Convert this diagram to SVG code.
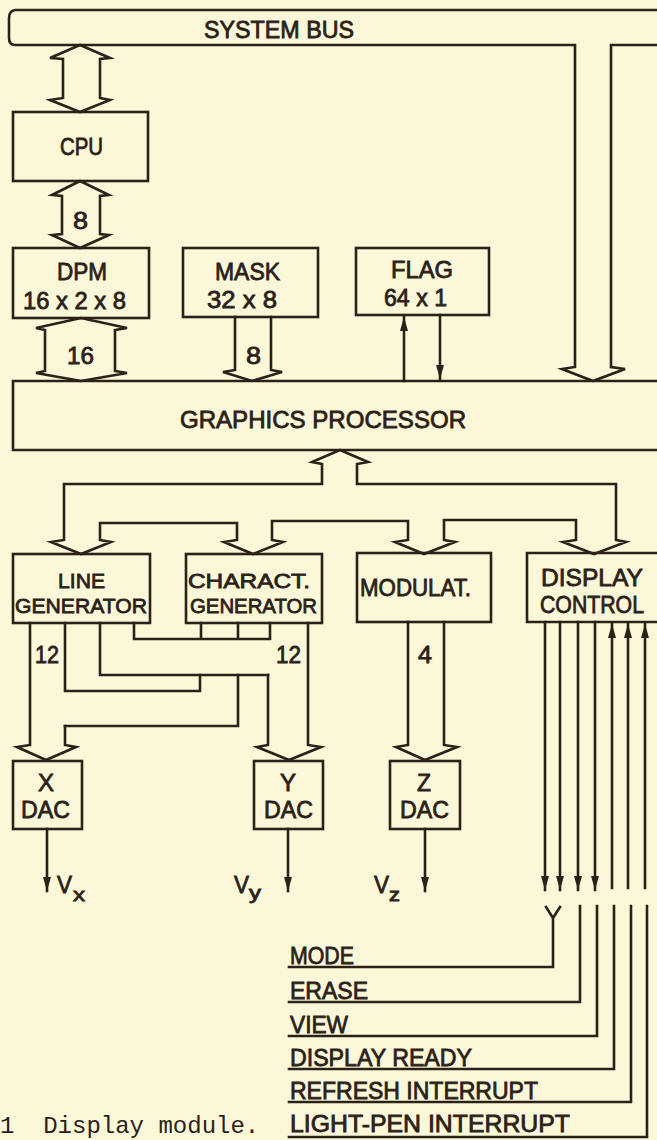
<svg xmlns="http://www.w3.org/2000/svg" width="657" height="1140" viewBox="0 0 657 1140">
<style>
.ln{fill:none;stroke:#2b2118;stroke-width:2.6;stroke-linejoin:miter;stroke-linecap:square}
.bx{fill:none;stroke:#2b2118;stroke-width:2.6}
.t{font-family:'Liberation Sans',Arial,sans-serif;font-size:24px;fill:#2b2118;stroke:#2b2118;stroke-width:0.8}
.m{font-size:21px}
.s{font-size:18px}
.cap{font-family:'Liberation Mono','Courier New',monospace;font-size:24px;fill:#2b2118}
</style>
<defs>
<marker id="ah" markerUnits="userSpaceOnUse" markerWidth="16" markerHeight="10" refX="14" refY="4" orient="auto">
<path d="M0,0 L14,4 L0,8 Z" fill="#2b2118"/>
</marker>
</defs>
<rect width="657" height="1140" fill="#fbf8d9"/>

<g id="system-bus">
<path class="ln" d="M657,10 L15,10 Q9,11 9,18 L9,38 Q9,45 15,45 L575,45 L575,367 L562,369 L593,381 L625,369 L611,367 L611,45 L657,45"/>
<text class="t" x="204" y="38" textLength="150" lengthAdjust="spacingAndGlyphs">SYSTEM BUS</text>
</g>

<g id="cpu">
<rect class="bx" x="13" y="112" width="135" height="69"/>
<text class="t" x="60" y="155" textLength="43" lengthAdjust="spacingAndGlyphs">CPU</text>
</g>

<g id="dpm">
<rect class="bx" x="13" y="248" width="136" height="70"/>
<text class="t" x="57" y="280" textLength="50" lengthAdjust="spacingAndGlyphs">DPM</text>
<text class="t" x="23" y="309" textLength="103" lengthAdjust="spacingAndGlyphs">16 x 2 x 8</text>
</g>

<g id="mask">
<rect class="bx" x="183" y="248" width="135" height="69"/>
<text class="t" x="215" y="280" textLength="65" lengthAdjust="spacingAndGlyphs">MASK</text>
<text class="t" x="207" y="308" textLength="70" lengthAdjust="spacingAndGlyphs">32 x 8</text>
</g>

<g id="flag">
<rect class="bx" x="356" y="248" width="133" height="67"/>
<text class="t" x="391" y="278" textLength="62" lengthAdjust="spacingAndGlyphs">FLAG</text>
<text class="t" x="384" y="306" textLength="63" lengthAdjust="spacingAndGlyphs">64 x 1</text>
</g>

<g id="graphics-processor">
<path class="ln" d="M657,381 L13,381 L13,450 L657,450"/>
<text class="t" x="180" y="428" textLength="286" lengthAdjust="spacingAndGlyphs">GRAPHICS PROCESSOR</text>
</g>

<g id="line-generator">
<rect class="bx" x="13" y="554" width="137" height="69"/>
<text class="t m" x="58" y="588" textLength="47" lengthAdjust="spacingAndGlyphs">LINE</text>
<text class="t m" x="15" y="613" textLength="132" lengthAdjust="spacingAndGlyphs">GENERATOR</text>
</g>

<g id="charact-generator">
<rect class="bx" x="186" y="554" width="136" height="69"/>
<text class="t m" x="188" y="588" textLength="122" lengthAdjust="spacingAndGlyphs">CHARACT.</text>
<text class="t m" x="190" y="613" textLength="127" lengthAdjust="spacingAndGlyphs">GENERATOR</text>
</g>

<g id="modulat">
<rect class="bx" x="357" y="553" width="134" height="69"/>
<text class="t" x="360" y="596" textLength="111" lengthAdjust="spacingAndGlyphs">MODULAT.</text>
</g>

<g id="display-control">
<path class="ln" d="M657,553 L527,553 L527,622 L657,622"/>
<text class="t" x="541" y="586" textLength="102" lengthAdjust="spacingAndGlyphs">DISPLAY</text>
<text class="t" x="540" y="613" textLength="104" lengthAdjust="spacingAndGlyphs">CONTROL</text>
</g>

<g id="x-dac">
<rect class="bx" x="13" y="761" width="69" height="68"/>
<text class="t" x="38" y="791" textLength="16" lengthAdjust="spacingAndGlyphs">X</text>
<text class="t" x="21" y="818" textLength="49" lengthAdjust="spacingAndGlyphs">DAC</text>
</g>

<g id="y-dac">
<rect class="bx" x="254" y="761" width="69" height="68"/>
<text class="t" x="280" y="791" textLength="16" lengthAdjust="spacingAndGlyphs">Y</text>
<text class="t" x="264" y="818" textLength="49" lengthAdjust="spacingAndGlyphs">DAC</text>
</g>

<g id="z-dac">
<rect class="bx" x="390" y="761" width="70" height="68"/>
<text class="t" x="417" y="791" textLength="14" lengthAdjust="spacingAndGlyphs">Z</text>
<text class="t" x="400" y="818" textLength="49" lengthAdjust="spacingAndGlyphs">DAC</text>
</g>

<g id="connectors">
<path class="ln" d="M80,45 L50,58 L63,59 L63,98 L50,100 L80,112 L110,100 L100,98 L100,59 L110,58 Z"/>
<path class="ln" d="M80,181 L52,195 L62,196 L62,234 L52,235 L80,248 L109,235 L100,234 L100,196 L109,195 Z"/>
<text class="t" x="73" y="229" textLength="15" lengthAdjust="spacingAndGlyphs">8</text>
<path class="ln" d="M81,318 L36,328 L45,330 L45,371 L36,373 L81,381 L127,373 L115,371 L115,330 L127,328 Z"/>
<text class="t" x="67" y="364" textLength="27" lengthAdjust="spacingAndGlyphs">16</text>
<path class="ln" d="M235,317 L235,370 L223,372 L252,381 L282,372 L271,370 L271,317"/>
<text class="t" x="246" y="364" textLength="15" lengthAdjust="spacingAndGlyphs">8</text>
<path class="ln" d="M404,381 L404,317" marker-end="url(#ah)"/>
<path class="ln" d="M440,315 L440,379" marker-end="url(#ah)"/>
<path class="ln" d="M322,464 L312,462 L340,450 L368,462 L357,464 L357,484 L616,484 L616,540 L626,542 L594,554 L563,542 L576,540 L576,520 L444,520 L444,540 L455,542 L424,554 L395,542 L408,540 L408,521 L272,521 L272,540 L283,542 L253,554 L224,542 L237,540 L237,523 L100,523 L100,540 L111,542 L81,554 L51,542 L64,540 L64,484 L322,484 Z"/>
<path class="ln" d="M134,623 L134,639 L270,639 L270,623 M201,623 L201,639 M238,623 L238,639"/>
<path class="ln" d="M65,623 L65,691 L200,691 L200,675"/>
<path class="ln" d="M100,623 L100,675 L268,675"/>
<path class="ln" d="M238,675 L238,726 L65,726"/>
<path class="ln" d="M30,623 L30,745 L17,747 L46,760 L76,747 L65,745 L65,726"/>
<text class="t" x="35" y="663" textLength="24" lengthAdjust="spacingAndGlyphs">12</text>
<path class="ln" d="M268,675 L268,745 L257,747 L289,760 L321,747 L308,745 L308,623"/>
<text class="t" x="276" y="663" textLength="25" lengthAdjust="spacingAndGlyphs">12</text>
<path class="ln" d="M408,622 L408,745 L396,747 L425,760 L457,747 L444,745 L444,622"/>
<text class="t" x="418" y="663" textLength="14" lengthAdjust="spacingAndGlyphs">4</text>
<path class="ln" d="M47,829 L47,891" marker-end="url(#ah)"/>
<path class="ln" d="M288,829 L288,891" marker-end="url(#ah)"/>
<path class="ln" d="M425,829 L425,891" marker-end="url(#ah)"/>
<text class="t" x="57" y="893" textLength="15" lengthAdjust="spacingAndGlyphs">V</text>
<text class="t s" x="73" y="901" textLength="12" lengthAdjust="spacingAndGlyphs">x</text>
<text class="t" x="234" y="893" textLength="15" lengthAdjust="spacingAndGlyphs">V</text>
<text class="t s" x="249" y="899" textLength="12" lengthAdjust="spacingAndGlyphs">y</text>
<text class="t" x="374" y="893" textLength="15" lengthAdjust="spacingAndGlyphs">V</text>
<text class="t s" x="389" y="901" textLength="11" lengthAdjust="spacingAndGlyphs">z</text>
<path class="ln" d="M545,622 L545,890" marker-end="url(#ah)"/>
<path class="ln" d="M560,622 L560,890" marker-end="url(#ah)"/>
<path class="ln" d="M578,622 L578,890" marker-end="url(#ah)"/>
<path class="ln" d="M595,622 L595,890" marker-end="url(#ah)"/>
<path class="ln" d="M612,888 L612,624" marker-end="url(#ah)"/>
<path class="ln" d="M628,888 L628,624" marker-end="url(#ah)"/>
<path class="ln" d="M645,888 L645,624" marker-end="url(#ah)"/>
<path class="ln" d="M546,907 L553,918 L560,907 M553,918 L553,967 L289,967"/>
<path class="ln" d="M580,906 L580,1002 L289,1002"/>
<path class="ln" d="M597,906 L597,1036 L289,1036"/>
<path class="ln" d="M614,906 L614,1069 L289,1069"/>
<path class="ln" d="M631,906 L631,1102 L289,1102"/>
<path class="ln" d="M647,906 L647,1137 L289,1137"/>
<text class="t" x="290" y="964" textLength="64" lengthAdjust="spacingAndGlyphs">MODE</text>
<text class="t" x="290" y="999" textLength="78" lengthAdjust="spacingAndGlyphs">ERASE</text>
<text class="t" x="290" y="1033" textLength="58" lengthAdjust="spacingAndGlyphs">VIEW</text>
<text class="t" x="290" y="1066" textLength="182" lengthAdjust="spacingAndGlyphs">DISPLAY READY</text>
<text class="t" x="290" y="1099" textLength="248" lengthAdjust="spacingAndGlyphs">REFRESH INTERRUPT</text>
<text class="t" x="290" y="1132" textLength="280" lengthAdjust="spacingAndGlyphs">LIGHT-PEN INTERRUPT</text>
</g>
<text class="cap" x="0" y="1133" xml:space="preserve">1  Display module.</text>
</svg>
